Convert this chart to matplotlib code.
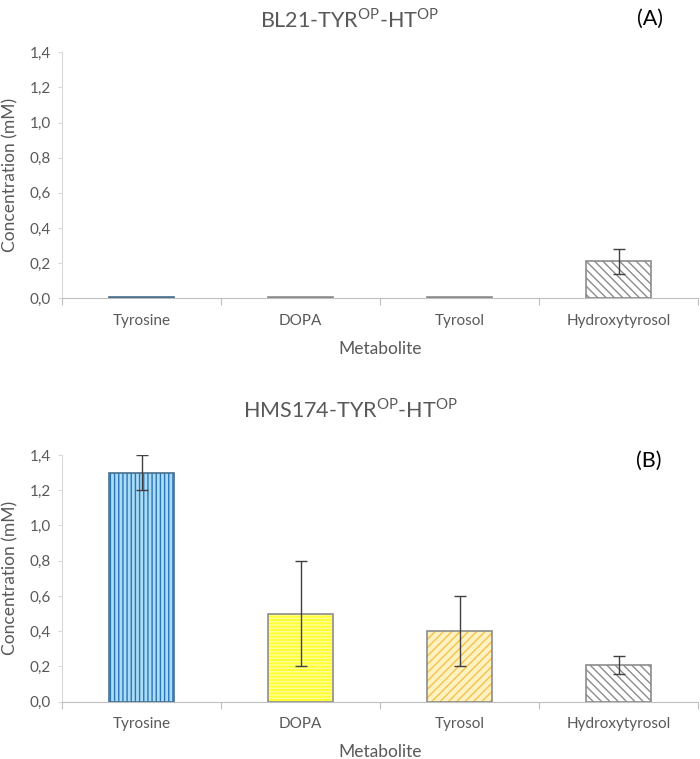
import matplotlib
matplotlib.use("Agg")
import matplotlib.pyplot as plt
import numpy as np

plt.rcParams['font.family'] = ['Lato', 'DejaVu Sans']
plt.rcParams['mathtext.fontset'] = 'custom'
plt.rcParams['mathtext.rm'] = 'Lato'
plt.rcParams['hatch.linewidth'] = 1.0

categories = ["Tyrosine", "DOPA", "Tyrosol", "Hydroxytyrosol"]
values_a = [0.01, 0.01, 0.01, 0.21]
errors_a = [0.0, 0.0, 0.0, 0.07]
values_b = [1.30, 0.50, 0.40, 0.21]
errors_b = [0.10, 0.30, 0.20, 0.05]
yticks = [0.0, 0.2, 0.4, 0.6, 0.8, 1.0, 1.2, 1.4]
ytick_labels = ["0,0", "0,2", "0,4", "0,6", "0,8", "1,0", "1,2", "1,4"]

face_colors = ["#a9dcf7", "#ffff33", "#fff2c0", "#ffffff"]
hatch_colors = ["#2e75b6", "#ffff99", "#f2c14e", "#8c8c8c"]
hatches = ["||||", "-----", "////", "\\\\\\\\"]
edge_colors = ["#4a6e8c", "#8c8c8c", "#8c8c8c", "#8c8c8c"]

TXT = "#595959"
W, H = 700.0, 759.0

fig = plt.figure(figsize=(7.0, 7.59), dpi=100)
ax_a = fig.add_axes([62/W, 1-298.3/H, 636/W, 246/H])
ax_b = fig.add_axes([62/W, 1-701.7/H, 636/W, 246.7/H])

def draw(ax, vals, errs):
    x = np.arange(len(categories))
    w = 0.41
    for i in range(len(categories)):
        ax.bar(x[i], vals[i], width=w, color=face_colors[i], hatch=hatches[i],
               edgecolor=hatch_colors[i], linewidth=0, zorder=2)
        ax.bar(x[i], vals[i], width=w, fill=False, edgecolor=edge_colors[i],
               linewidth=1.2, zorder=3)
    for i in range(len(categories)):
        if errs[i] > 0:
            ax.errorbar(x[i], vals[i], yerr=errs[i], fmt='none', ecolor='#404040',
                        elinewidth=1.0, capsize=4, capthick=1.0, zorder=4)
    ax.set_xlim(-0.5, len(categories) - 0.5)
    ax.set_ylim(0, 1.4)
    ax.set_yticks(yticks)
    ax.set_yticklabels(ytick_labels)
    ax.set_xticks(np.arange(-0.5, len(categories), 1.0))
    ax.set_xticklabels([])
    ax.set_xticks(x, minor=True)
    ax.set_xticklabels(categories, minor=True)
    ax.tick_params(axis='x', which='major', length=5, color='#bfbfbf', direction='out')
    ax.tick_params(axis='x', which='minor', length=0, labelsize=11, labelcolor=TXT, pad=11)
    ax.tick_params(axis='y', length=3, color='#d9d9d9', labelsize=11, labelcolor=TXT, pad=5)
    for s in ['top', 'right']:
        ax.spines[s].set_visible(False)
    ax.spines['left'].set_color('#d9d9d9')
    ax.spines['bottom'].set_color('#bfbfbf')
    ax.set_xlabel("Metabolite", fontsize=12.5, color=TXT)
    ax.set_ylabel("Concentration (mM)", fontsize=12.5, color=TXT)
    ax.xaxis.set_label_coords(0.5, -0.172)
    ax.yaxis.set_label_coords(-0.068, 0.5)

draw(ax_a, values_a, errors_a)
draw(ax_b, values_b, errors_b)

fig.text(350/W, 1-20/H, r"BL21-TYR$^{\mathregular{OP}}$-HT$^{\mathregular{OP}}$",
         ha='center', va='center', fontsize=15.5, color=TXT)
fig.text(350/W, 1-410/H, r"HMS174-TYR$^{\mathregular{OP}}$-HT$^{\mathregular{OP}}$",
         ha='center', va='center', fontsize=15.5, color=TXT)
fig.text(650/W, 1-19/H, "(A)", ha='center', va='center', fontsize=15.5, color='black')
fig.text(649/W, 1-461/H, "(B)", ha='center', va='center', fontsize=15.5, color='black')

fig.savefig("out.png", dpi=100)
